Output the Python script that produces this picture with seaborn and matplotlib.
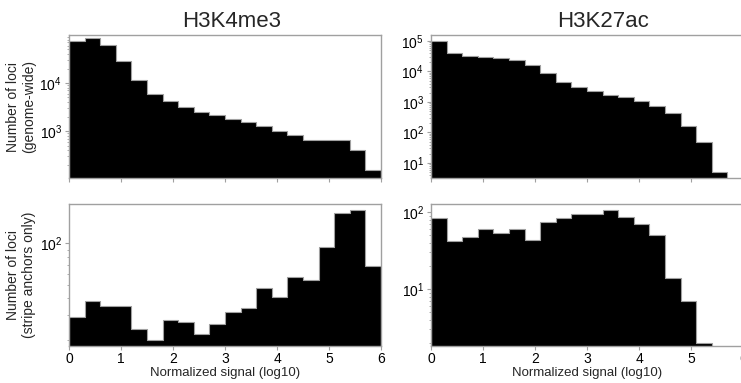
"""
H3K4me3 / H3K27ac 信号分布直方图 (全基因组 vs 条纹锚点)
"""

import numpy as np
import pandas as pd
import matplotlib
matplotlib.use('Agg')
import matplotlib.pyplot as plt
import matplotlib.ticker as ticker
import seaborn as sns

# ======================== 数据 ========================
bin_edges = [0.0, 0.3, 0.6, 0.9, 1.2, 1.5, 1.8, 2.1, 2.4, 2.7, 3.0,
             3.3, 3.6, 3.9, 4.2, 4.5, 4.8, 5.1, 5.4, 5.7, 6.0]

marks = ['H3K4me3', 'H3K27ac']
row_labels = ['Number of loci\n(genome-wide)',
              'Number of loci\n(stripe anchors only)']
x_ticks = [0, 1, 2, 3, 4, 5, 6]

# 全基因组
h3k4me3_genome = [73000, 85700, 62000, 29200, 11700, 6000, 4240, 3220, 2490, 2150,
                  1800, 1540, 1290, 1025, 830, 650, 640, 640, 400, 158]
h3k27ac_genome = [100000, 39500, 33000, 30500, 28300, 23300, 16300, 9100, 4630, 3020,
                  2240, 1660, 1430, 1050, 757, 427, 163, 49, 5, 0]

# 仅条纹锚点
h3k4me3_stripe = [29, 38, 35, 35, 24, 20, 28, 27, 22, 26,
                  32, 34, 47, 41, 57, 54, 94, 165, 175, 68]
h3k27ac_stripe = [84, 42, 47, 60, 54, 60, 44, 74, 83, 96,
                  96, 106, 87, 71, 51, 14, 7, 2, 0, 0]

ylims = {
    (0, 0): (106, 9.95e4),
    (0, 1): (3.2, 1.57e5),
    (1, 0): (18, 194),
    (1, 1): (1.82, 130),
}

# ======================== 绘图 ========================
sns.set_style('ticks')
plt.rcParams['font.family'] = ['Liberation Sans', 'DejaVu Sans']
plt.rcParams['axes.unicode_minus'] = False

GRAY = '#a0a0a0'
W, H = 741, 383
fig = plt.figure(figsize=(W / 100, H / 100), dpi=100)

lefts = [69, 431]
tops = [35, 203.5]
bottoms = [178, 346]
width_px = 312

edges = np.array(bin_edges)
centers = (edges[:-1] + edges[1:]) / 2
data = [[h3k4me3_genome, h3k27ac_genome],
        [h3k4me3_stripe, h3k27ac_stripe]]

for r in range(2):
    for c in range(2):
        ax = fig.add_axes([lefts[c] / W, 1 - bottoms[r] / H,
                           width_px / W, (bottoms[r] - tops[r]) / H])
        df = pd.DataFrame({'signal': centers, 'count': data[r][c]})
        sns.histplot(data=df, x='signal', weights='count', bins=bin_edges,
                     element='step', fill=True, color='black', alpha=1,
                     edgecolor=GRAY, linewidth=0.8, ax=ax)
        ax.set_yscale('log')
        ax.set_ylim(*ylims[(r, c)])
        ax.set_xlim(0, 6)
        ax.set_xticks(x_ticks)
        ax.set_xticklabels([str(t) for t in x_ticks])
        ax.yaxis.set_major_locator(ticker.LogLocator(base=10))
        ax.yaxis.set_minor_locator(ticker.LogLocator(base=10, subs=np.arange(2, 10)))
        ax.yaxis.set_minor_formatter(ticker.NullFormatter())

        for s in ax.spines.values():
            s.set_color(GRAY)
            s.set_linewidth(1.0)
        ax.tick_params(axis='both', which='major', color=GRAY, labelsize=10,
                       length=3, width=0.8, pad=2, labelcolor='black')
        ax.tick_params(axis='x', which='major', pad=1.5)
        ax.tick_params(axis='y', which='minor', color=GRAY, length=1.8, width=0.6)

        if r == 0:
            ax.tick_params(labelbottom=False)
            ax.set_xlabel('')
            ax.set_title(marks[c], fontsize=16, x=[0.521, 0.55][c], pad=6)
        else:
            ax.set_xlabel('Normalized signal (log10)', fontsize=9.5, labelpad=0.5)

        if c == 0:
            ax.set_ylabel(row_labels[r], fontsize=10, labelpad=2.5)
        else:
            ax.set_ylabel('')

plt.savefig('out.png', dpi=100)
plt.close()
